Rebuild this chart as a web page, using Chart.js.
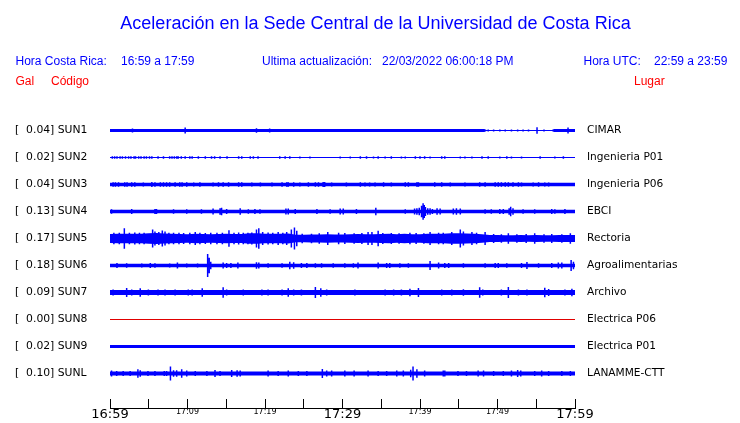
<!DOCTYPE html>
<html>
<head>
<meta charset="utf-8">
<title>Aceleración Sede Central UCR</title>
<script src="https://cdn.jsdelivr.net/npm/chart.js@4.4.1/dist/chart.umd.min.js"></script>
<style>
  html, body { margin: 0; padding: 0; background: #fff; }
  canvas { display: block; }
</style>
</head>
<body>
<canvas id="sismo" width="740" height="423"></canvas>
<script>
const stations = ['SUN1', 'SUN2', 'SUN3', 'SUN4', 'SUN5', 'SUN6', 'SUN7', 'SUN8', 'SUN9', 'SUNL'];
const peakGal = [0.04, 0.02, 0.04, 0.13, 0.17, 0.18, 0.09, 0.00, 0.02, 0.10];
const places = ['CIMAR', 'Ingenieria P01', 'Ingenieria P06', 'EBCI', 'Rectoria',
  'Agroalimentarias', 'Archivo', 'Electrica P06', 'Electrica P01', 'LANAMME-CTT'];
const timeLabels = ['16:59', '17:09', '17:19', '17:29', '17:39', '17:49', '17:59'];

// background noise envelope: [minute after 16:59, half amplitude in Gal]
const envSUN1 = [[0, 0.023], [48.3, 0.023], [48.6, 0.006], [57.0, 0.006], [57.3, 0.023], [60, 0.023]];
const envSUN2 = [];
const envSUN3 = [[0, 0.026], [60, 0.026]];
const envSUN4 = [[0, 0.028], [60, 0.028]];
const envSUN5 = [
  [0, 0.070], [1, 0.072], [2, 0.075], [3, 0.072], [4, 0.075], [5, 0.080], [6, 0.085], [7, 0.078],
  [8, 0.072], [9, 0.070], [10, 0.066], [11, 0.075], [12, 0.070], [13, 0.066], [14, 0.070], [15, 0.075],
  [16, 0.070], [17, 0.070], [18, 0.080], [19, 0.082], [20, 0.075], [21, 0.072], [22, 0.075], [23, 0.078],
  [24, 0.060], [25, 0.058], [26, 0.062], [27, 0.064], [28, 0.066], [29, 0.062], [30, 0.064], [31, 0.066],
  [32, 0.070], [33, 0.068], [34, 0.066], [35, 0.070], [36, 0.072], [37, 0.068], [38, 0.072], [39, 0.068],
  [40, 0.068], [41, 0.072], [42, 0.072], [43, 0.075], [44, 0.080], [45, 0.080], [46, 0.076], [47, 0.074],
  [48, 0.065], [49, 0.055], [50, 0.054], [51, 0.050], [52, 0.050], [53, 0.055], [54, 0.050], [55, 0.054],
  [56, 0.050], [57, 0.052], [58, 0.055], [59, 0.055], [60, 0.055]
];
const envSUN6 = [[0, 0.028], [60, 0.028]];
const envSUN7 = [[0, 0.038], [60, 0.038]];
const envSUN8 = [];
const envSUN9 = [[0, 0.025], [60, 0.025]];
const envSUNL = [[0, 0.031], [60, 0.031]];

// bursts: [minute after 16:59, half amplitude in Gal]
const burstSUN1 = [[2.9, 0.03], [9.7, 0.048], [18.9, 0.036], [20.6, 0.03], [48.8, 0.016], [49.5, 0.016],
  [50.3, 0.016], [51.0, 0.016], [51.8, 0.016], [52.6, 0.016], [53.3, 0.016], [54.0, 0.016], [55.1, 0.05],
  [56.0, 0.016], [59.1, 0.045]];
const burstSUN2 = [[0.3, 0.02], [0.6, 0.018], [0.9, 0.02], [1.3, 0.018], [1.6, 0.02], [2.0, 0.02], [2.4, 0.018],
  [2.7, 0.02], [3.1, 0.018], [3.3, 0.02], [3.7, 0.02], [4.0, 0.018], [4.4, 0.02], [4.7, 0.02], [5.1, 0.018],
  [5.4, 0.02], [6.2, 0.018], [6.9, 0.02], [7.7, 0.018], [8.0, 0.02], [8.3, 0.02], [8.6, 0.02], [8.8, 0.02],
  [9.2, 0.018], [9.7, 0.02], [10.3, 0.018], [10.6, 0.02], [11.4, 0.02], [12.3, 0.018], [13.1, 0.02],
  [13.5, 0.02], [14.2, 0.018], [15.1, 0.02], [16.6, 0.018], [17.0, 0.02], [18.1, 0.018], [18.5, 0.02],
  [19.1, 0.018], [21.9, 0.018], [22.6, 0.02], [23.2, 0.018], [24.5, 0.016], [25.8, 0.016], [29.7, 0.016],
  [31.0, 0.016], [32.3, 0.018], [33.1, 0.018], [34.0, 0.016], [34.6, 0.018], [35.5, 0.016], [36.3, 0.018],
  [37.6, 0.016], [38.1, 0.016], [39.4, 0.018], [40.0, 0.02], [40.6, 0.018], [41.3, 0.016], [42.8, 0.018],
  [43.2, 0.018], [45.2, 0.016], [45.8, 0.016], [46.7, 0.016], [48.0, 0.018], [48.8, 0.018], [50.3, 0.016],
  [51.2, 0.018], [51.8, 0.016], [53.1, 0.016], [55.5, 0.02], [57.4, 0.016], [58.5, 0.018]];
const burstSUN3 = [[0.4, 0.035], [0.7, 0.035], [1.1, 0.035], [1.9, 0.035], [2.2, 0.035], [2.8, 0.035],
  [3.2, 0.035], [4.3, 0.03], [5.4, 0.038], [5.8, 0.035], [6.5, 0.035], [6.9, 0.035], [7.3, 0.035],
  [7.7, 0.035], [8.4, 0.035], [9.0, 0.035], [9.3, 0.035], [9.9, 0.035], [10.8, 0.03], [11.6, 0.035],
  [13.3, 0.03], [14.0, 0.035], [14.6, 0.035], [15.3, 0.035], [16.6, 0.035], [17.0, 0.035], [18.3, 0.03],
  [19.4, 0.03], [20.9, 0.03], [22.2, 0.035], [22.8, 0.035], [23.0, 0.035], [23.7, 0.035], [24.5, 0.03],
  [25.6, 0.035], [26.5, 0.035], [26.9, 0.035], [27.5, 0.038], [27.7, 0.038], [28.6, 0.03], [30.5, 0.03],
  [32.3, 0.035], [32.9, 0.03], [33.5, 0.03], [34.2, 0.03], [35.3, 0.035], [36.3, 0.03], [38.1, 0.035],
  [38.5, 0.035], [39.6, 0.035], [39.8, 0.035], [41.9, 0.035], [42.8, 0.035], [43.9, 0.03], [45.8, 0.03],
  [47.7, 0.035], [48.4, 0.035], [49.7, 0.035], [50.1, 0.035], [50.5, 0.035], [51.0, 0.035], [51.4, 0.035],
  [52.0, 0.035], [52.7, 0.035], [53.1, 0.03], [54.6, 0.03], [55.3, 0.035], [56.1, 0.03], [56.6, 0.03]];
const burstSUN4 = [[0.2, 0.035], [2.8, 0.04], [5.8, 0.04], [6.0, 0.04], [8.2, 0.035], [9.9, 0.035],
  [11.8, 0.035], [13.3, 0.045], [14.2, 0.05], [14.4, 0.06], [15.05, 0.04], [16.8, 0.05], [17.85, 0.035],
  [18.7, 0.04], [19.35, 0.035], [22.7, 0.045], [23.0, 0.045], [23.9, 0.04], [26.7, 0.04], [28.4, 0.035],
  [29.7, 0.045], [30.1, 0.045], [31.8, 0.04], [34.3, 0.06], [38.1, 0.035], [39.3, 0.045], [39.6, 0.05],
  [39.9, 0.06], [40.2, 0.09], [40.4, 0.13], [40.55, 0.1], [40.7, 0.07], [41.0, 0.05], [41.3, 0.05],
  [41.6, 0.04], [42.2, 0.05], [42.6, 0.045], [44.3, 0.045], [44.7, 0.05], [45.2, 0.045], [48.4, 0.035],
  [49.2, 0.035], [50.3, 0.04], [50.75, 0.04], [51.5, 0.05], [51.7, 0.075], [52.0, 0.05], [53.3, 0.035],
  [54.8, 0.035], [57.0, 0.04], [57.4, 0.035], [58.7, 0.04]];
const burstSUN5 = [[0.5, 0.09], [1.2, 0.09], [1.85, 0.16], [2.5, 0.09], [3.2, 0.095], [3.8, 0.09], [4.4, 0.09],
  [5.5, 0.14], [5.8, 0.11], [6.3, 0.1], [6.75, 0.125], [7.1, 0.11], [7.6, 0.09], [8.2, 0.09], [8.9, 0.09],
  [9.5, 0.085], [10.3, 0.09], [11.0, 0.1], [11.6, 0.09], [12.3, 0.085], [13.0, 0.09], [13.8, 0.09],
  [14.5, 0.09], [15.35, 0.13], [16.0, 0.09], [16.6, 0.095], [17.2, 0.09], [17.8, 0.09], [18.3, 0.095],
  [18.9, 0.14], [19.2, 0.16], [19.7, 0.1], [20.4, 0.095], [21.0, 0.09], [21.7, 0.1], [22.3, 0.09],
  [22.8, 0.1], [23.4, 0.14], [23.8, 0.17], [24.1, 0.12], [24.8, 0.075], [26.0, 0.075], [27.0, 0.08],
  [28.1, 0.1], [29.5, 0.09], [30.3, 0.085], [31.5, 0.08], [32.5, 0.085], [33.3, 0.1], [33.8, 0.1],
  [34.6, 0.12], [35.2, 0.085], [36.3, 0.085], [37.3, 0.08], [38.7, 0.09], [39.5, 0.085], [40.5, 0.08],
  [41.3, 0.1], [42.4, 0.09], [43.0, 0.09], [44.1, 0.1], [45.2, 0.14], [45.6, 0.11], [46.7, 0.1],
  [47.3, 0.09], [48.4, 0.1], [49.5, 0.07], [50.5, 0.065], [51.4, 0.08], [52.5, 0.065], [53.7, 0.07],
  [54.8, 0.08], [56.0, 0.065], [57.0, 0.07], [58.3, 0.065], [59.4, 0.08]];
const burstSUN6 = [[0.9, 0.037], [2.15, 0.035], [4.1, 0.03], [5.2, 0.04], [5.8, 0.035], [7.7, 0.03],
  [8.7, 0.045], [9.9, 0.03], [11.3, 0.03], [12.6, 0.18], [12.8, 0.12], [13.0, 0.06], [14.6, 0.045],
  [15.05, 0.04], [15.6, 0.04], [16.5, 0.045], [18.9, 0.05], [19.2, 0.045], [20.4, 0.035], [22.2, 0.035],
  [23.2, 0.06], [23.7, 0.05], [24.7, 0.04], [25.4, 0.04], [26.5, 0.035], [27.3, 0.035], [28.8, 0.035],
  [30.3, 0.035], [31.4, 0.035], [32.0, 0.045], [34.6, 0.045], [35.7, 0.04], [36.1, 0.04], [37.4, 0.035],
  [38.5, 0.035], [41.3, 0.07], [42.4, 0.045], [43.2, 0.04], [43.7, 0.04], [45.6, 0.035], [48.4, 0.035],
  [49.7, 0.04], [50.1, 0.04], [51.2, 0.035], [53.1, 0.04], [53.8, 0.055], [55.3, 0.035], [57.0, 0.04],
  [57.85, 0.045], [58.3, 0.045], [59.5, 0.085], [59.8, 0.06]];
const burstSUN7 = [[0.4, 0.045], [1.1, 0.04], [2.15, 0.07], [2.8, 0.045], [3.9, 0.065], [4.95, 0.045],
  [6.2, 0.045], [7.1, 0.045], [8.4, 0.045], [10.1, 0.045], [10.6, 0.045], [11.9, 0.065], [13.1, 0.04],
  [14.6, 0.08], [15.05, 0.045], [17.2, 0.045], [19.6, 0.045], [20.4, 0.045], [22.2, 0.045], [23.0, 0.065],
  [23.7, 0.045], [24.7, 0.045], [26.5, 0.085], [27.2, 0.065], [27.96, 0.045], [29.5, 0.04], [31.6, 0.045],
  [32.5, 0.04], [35.5, 0.045], [36.6, 0.045], [37.6, 0.045], [38.7, 0.06], [39.8, 0.07], [41.1, 0.04],
  [42.8, 0.045], [44.1, 0.045], [45.6, 0.05], [47.7, 0.08], [48.1, 0.045], [50.5, 0.045], [51.4, 0.085],
  [52.7, 0.045], [53.8, 0.045], [56.1, 0.075], [56.6, 0.055], [58.7, 0.045], [59.6, 0.06]];
const burstSUN8 = [];
const burstSUN9 = [];
const burstSUNL = [[0.2, 0.045], [0.86, 0.04], [1.7, 0.04], [2.6, 0.04], [3.6, 0.068], [3.9, 0.05],
  [4.9, 0.04], [5.8, 0.04], [7.0, 0.04], [7.3, 0.04], [7.8, 0.11], [8.2, 0.05], [8.6, 0.05], [9.25, 0.065],
  [9.9, 0.045], [11.0, 0.04], [12.5, 0.04], [13.55, 0.055], [14.2, 0.04], [15.7, 0.055], [16.4, 0.05],
  [16.8, 0.045], [20.4, 0.045], [21.7, 0.04], [23.0, 0.045], [24.3, 0.04], [25.4, 0.04], [27.4, 0.07],
  [27.96, 0.045], [28.6, 0.045], [30.3, 0.045], [31.5, 0.045], [33.3, 0.045], [34.6, 0.04], [35.7, 0.04],
  [37.0, 0.045], [37.85, 0.045], [38.8, 0.06], [39.1, 0.11], [39.6, 0.065], [40.6, 0.045], [43.0, 0.045],
  [43.2, 0.045], [44.9, 0.04], [46.0, 0.04], [47.5, 0.045], [48.2, 0.045], [49.5, 0.04], [50.75, 0.04],
  [51.8, 0.045], [52.6, 0.055], [53.0, 0.045], [54.8, 0.04], [55.7, 0.045], [56.6, 0.04], [58.3, 0.04],
  [59.4, 0.04]];

const envelopes = [envSUN1, envSUN2, envSUN3, envSUN4, envSUN5, envSUN6, envSUN7, envSUN8, envSUN9, envSUNL];
const bursts = [burstSUN1, burstSUN2, burstSUN3, burstSUN4, burstSUN5, burstSUN6, burstSUN7, burstSUN8, burstSUN9, burstSUNL];

const GAL_PER_ROW = 0.42;   // vertical distance between two traces
const ROW_PX = 27;
const AREA_TOP = 103.5;
const AREA_BOTTOM = 408;
const BLUE = '#0000ff';
const RED = '#e00000';
const FONT = "'DejaVu Sans', sans-serif";
const HEAD_FONT = "'Liberation Sans', Arial, Helvetica, sans-serif";

const yMax = GAL_PER_ROW;
const yMin = yMax - (AREA_BOTTOM - AREA_TOP) / ROW_PX * GAL_PER_ROW;

const datasets = [];
stations.forEach((code, i) => {
  const base = -i * GAL_PER_ROW;
  const color = peakGal[i] === 0 ? RED : BLUE;
  const env = envelopes[i];
  if (env.length) {
    datasets.push({
      data: env.map(([t, a]) => ({ x: t, y: base + a })),
      borderColor: 'transparent', backgroundColor: color, fill: '+1'
    });
    datasets.push({
      data: env.map(([t, a]) => ({ x: t, y: base - a })),
      borderColor: 'transparent', fill: false
    });
  }
  datasets.push({
    data: [{ x: 0, y: base }, { x: 60, y: base }],
    borderColor: color, borderWidth: 1, fill: false
  });
  const seg = [];
  bursts[i].forEach(([t, a]) => {
    seg.push({ x: t, y: base - a }, { x: t, y: base + a }, { x: t, y: null });
  });
  datasets.push({ data: seg, borderColor: color, borderWidth: 1.5, fill: false });
});

const stationTicks = scale => {
  scale.ticks = stations.map((_, i) => ({ value: -i * GAL_PER_ROW }));
};

// title and header lines above the traces
const header = {
  id: 'header',
  afterDraw(chart) {
    const ctx = chart.ctx;
    ctx.save();
    ctx.textBaseline = 'alphabetic';
    ctx.fillStyle = BLUE;
    ctx.font = '18px ' + HEAD_FONT;
    ctx.textAlign = 'center';
    ctx.fillText('Aceleración en la Sede Central de la Universidad de Costa Rica', 375.5, 29);

    ctx.textAlign = 'left';
    ctx.font = '12px ' + HEAD_FONT;
    ctx.fillText('Hora Costa Rica:', 15.5, 64.5);
    ctx.fillText(timeLabels[0] + ' a ' + timeLabels[6], 121, 64.5);
    ctx.fillText('Ultima actualización:', 262, 64.5);
    ctx.fillText('22/03/2022 06:00:18 PM', 382, 64.5);
    ctx.fillText('Hora UTC:', 583.5, 64.5);
    ctx.fillText('22:59 a 23:59', 654, 64.5);

    ctx.fillStyle = '#ff0000';
    ctx.fillText('Gal', 15.5, 84.5);
    ctx.fillText('Código', 51, 84.5);
    ctx.fillText('Lugar', 634, 84.5);
    ctx.restore();
  }
};

new Chart(document.getElementById('sismo'), {
  type: 'line',
  data: { datasets },
  plugins: [header],
  options: {
    responsive: false,
    animation: false,
    devicePixelRatio: 1,
    events: [],
    layout: { padding: { top: AREA_TOP, left: 15, right: 0, bottom: 0 } },
    elements: { point: { radius: 0 }, line: { tension: 0 } },
    plugins: { legend: { display: false }, tooltip: { enabled: false }, title: { display: false } },
    scales: {
      x: {
        type: 'linear', position: 'bottom', min: 0, max: 60, offset: false,
        afterFit: scale => { scale.height = 423 - AREA_BOTTOM; },
        ticks: {
          stepSize: 5, autoSkip: false, maxRotation: 0, padding: 8, color: '#000',
          callback: v => (v % 10 === 0 ? timeLabels[v / 10] : ''),
          font: ctx => (ctx.tick && ctx.tick.value % 30 === 0)
            ? { family: FONT, size: 13 }
            : { family: FONT, size: 8 }
        },
        grid: { drawOnChartArea: false, drawTicks: true, tickLength: -9, tickColor: '#000', tickWidth: 1 },
        border: { display: true, color: '#000', width: 1 }
      },
      y: {
        type: 'linear', position: 'left', min: yMin, max: yMax,
        afterBuildTicks: stationTicks,
        afterFit: scale => { scale.width = 95; },
        ticks: {
          autoSkip: false, crossAlign: 'far', padding: 0, color: '#000',
          font: { family: FONT, size: 10.8 },
          callback: (v, i) => '[  ' + peakGal[i].toFixed(2) + '] ' + stations[i]
        },
        grid: { display: false, drawTicks: false },
        border: { display: false }
      },
      y2: {
        type: 'linear', position: 'right', min: yMin, max: yMax,
        afterBuildTicks: stationTicks,
        afterFit: scale => { scale.width = 165; },
        ticks: {
          autoSkip: false, crossAlign: 'near', padding: 0, color: '#000',
          font: { family: FONT, size: 10.6 },
          callback: (v, i) => places[i]
        },
        grid: { display: false, drawTicks: true, tickLength: 12 },
        border: { display: false }
      }
    }
  }
});
</script>
</body>
</html>
